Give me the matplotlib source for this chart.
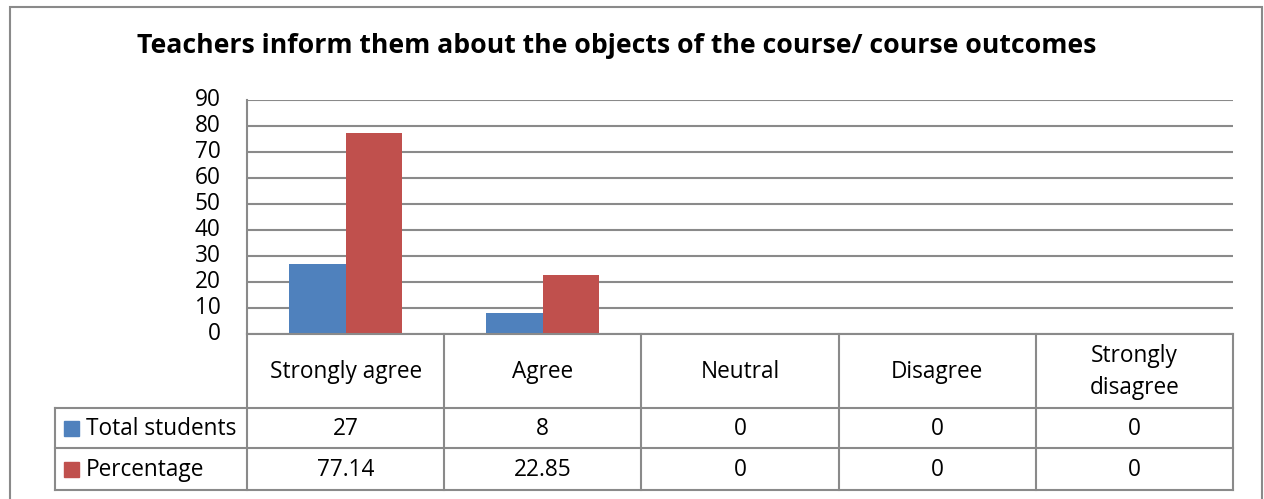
import numpy as np
import matplotlib.pyplot as plt
from matplotlib.patches import Rectangle

# DATOS
categories = ["Strongly agree", "Agree", "Neutral", "Disagree", "Strongly\ndisagree"]
total_students = [27, 8, 0, 0, 0]
percentage = [77.14, 22.85, 0, 0, 0]
total_labels = ["27", "8", "0", "0", "0"]
pct_labels = ["77.14", "22.85", "0", "0", "0"]
series_names = ["Total students", "Percentage"]
yticks = [0, 10, 20, 30, 40, 50, 60, 70, 80, 90]

title = "Teachers inform them about the objects of the course/ course outcomes"
colors = ["#4F81BD", "#C0504D"]
grid_c = "#8A8A8A"
font = "Open Sans"
fs = 16.3

W, H = 1264, 499
fig = plt.figure(figsize=(W / 100, H / 100), dpi=100)


def fx(px):
    return px / W


def fy(py):
    return 1 - py / H


# marco exterior
fig.patches.append(Rectangle((fx(10), fy(520)), fx(1262) - fx(10), fy(7) - fy(520),
                             transform=fig.transFigure, fill=False,
                             edgecolor="#8A8A8A", lw=1.5))

fig.text(fx(617), fy(46), title, ha="center", va="center",
         fontsize=19.2, fontweight="bold", family=font)

# GRÁFICO DE BARRAS
ax = fig.add_axes([fx(247), fy(334), fx(1233) - fx(247), fy(100) - fy(334)])
x = np.arange(len(categories))
bw = 0.287
ax.bar(x - bw / 2, total_students, bw, color=colors[0], zorder=3)
ax.bar(x + bw / 2, percentage, bw, color=colors[1], zorder=3)
ax.set_xlim(-0.5, len(categories) - 0.5)
ax.set_ylim(0, 90)
ax.set_yticks(yticks)
ax.set_yticklabels([str(t) for t in yticks], family=font, fontsize=fs)
ax.tick_params(axis="y", length=0, pad=19)
ax.set_xticks([])
ax.yaxis.grid(True, color=grid_c, lw=1.5, zorder=0)
for s in ["top", "right", "bottom"]:
    ax.spines[s].set_visible(False)
ax.spines["left"].set_color(grid_c)
ax.spines["left"].set_linewidth(1.5)
for lab in ax.get_yticklabels():
    lab.set_verticalalignment("center")

# TABLA DE DATOS
tax = fig.add_axes([fx(247), fy(490), fx(1233) - fx(247), fy(334) - fy(490)])
tax.set_xlim(-0.5, len(categories) - 0.5)
tax.set_ylim(156, 0)
tax.axis("off")
left = -0.5 - (247 - 55) / 197.2
rows = [0, 74, 114, 156]
for i in range(len(categories) + 1):
    tax.plot([i - 0.5, i - 0.5], [0, 156], color=grid_c, lw=1.5, clip_on=False)
for r in rows:
    x0 = -0.5 if r == 0 else left
    tax.plot([x0, len(categories) - 0.5], [r, r], color=grid_c, lw=1.5, clip_on=False)
tax.plot([left, left], [74, 156], color=grid_c, lw=1.5, clip_on=False)

for i, c in enumerate(categories):
    tax.text(i, 38, c, ha="center", va="center", fontsize=fs, family=font,
             linespacing=1.45)
for i in range(len(categories)):
    tax.text(i, 95, total_labels[i], ha="center", va="center", fontsize=fs, family=font)
    tax.text(i, 136, pct_labels[i], ha="center", va="center", fontsize=fs, family=font)

for k, (name, yc) in enumerate(zip(series_names, [94, 135])):
    tax.add_patch(Rectangle((left + 9 / 197.2, yc - 7.5), 15 / 197.2, 15,
                            color=colors[k], clip_on=False))
    tax.text(left + 31 / 197.2, yc + 1, name, ha="left", va="center", fontsize=fs,
             family=font, clip_on=False)

plt.savefig("out.png", dpi=100)
